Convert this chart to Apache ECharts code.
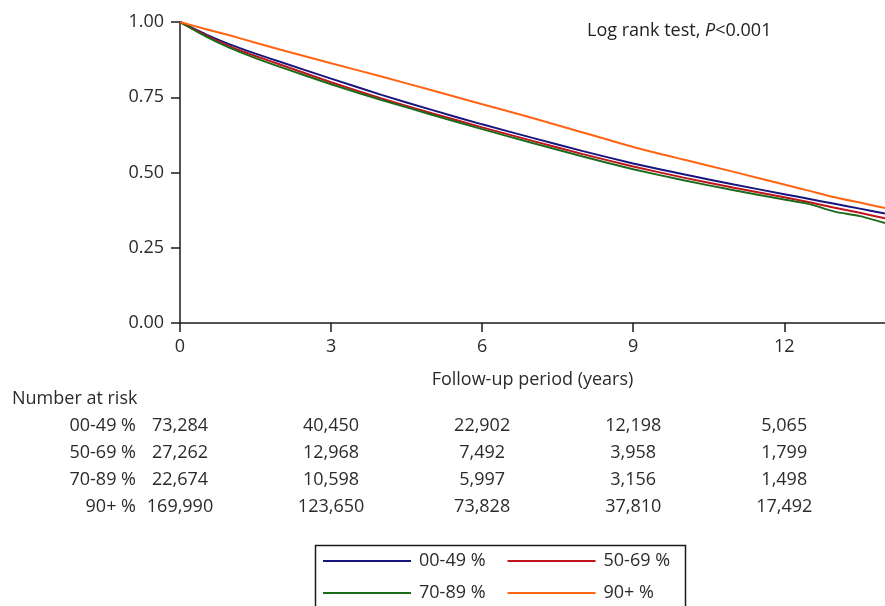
<!DOCTYPE html>
<html>
<head>
<meta charset="utf-8">
<script src="https://cdn.jsdelivr.net/npm/echarts@6/dist/echarts.min.js"></script>
<style>html,body{margin:0;padding:0;background:#fff;}#c{width:885px;height:606px;}</style>
</head>
<body>
<div id="c"></div>
<script>
// ---- data ----
var groups = ['00-49 %', '50-69 %', '70-89 %', '90+ %'];
var times = [0, 0.5, 1, 1.5, 2, 3, 4, 5, 6, 7, 8, 9, 10, 11, 12, 12.5, 13, 13.5, 14];
var surv0049 = [1, 0.960, 0.925, 0.895, 0.867, 0.812, 0.758, 0.708, 0.660, 0.615, 0.571, 0.530, 0.494, 0.460, 0.428, 0.412, 0.396, 0.380, 0.364];
var surv5069 = [1, 0.956, 0.918, 0.887, 0.858, 0.800, 0.746, 0.697, 0.650, 0.605, 0.561, 0.520, 0.483, 0.449, 0.418, 0.401, 0.383, 0.366, 0.348];
var surv7089 = [1, 0.953, 0.913, 0.880, 0.850, 0.793, 0.741, 0.692, 0.644, 0.598, 0.553, 0.511, 0.474, 0.441, 0.410, 0.395, 0.370, 0.355, 0.332];
var surv90 = [1, 0.977, 0.955, 0.931, 0.908, 0.863, 0.819, 0.773, 0.727, 0.681, 0.633, 0.585, 0.543, 0.502, 0.460, 0.439, 0.418, 0.400, 0.382];
var riskTimes = [0, 3, 6, 9, 12];
var risk0049 = [73284, 40450, 22902, 12198, 5065];
var risk5069 = [27262, 12968, 7492, 3958, 1799];
var risk7089 = [22674, 10598, 5997, 3156, 1498];
var risk90 = [169990, 123650, 73828, 37810, 17492];
var xTicks = [0, 3, 6, 9, 12];

var colors = ['#16167e', '#c0131b', '#1b6b1b', '#ff6412'];
var survs = [surv0049, surv5069, surv7089, surv90];
var risks = [risk0049, risk5069, risk7089, risk90];
var FONT = '"Open Sans", sans-serif';
var TXT = '#2b2b2b';

function pairs(xs, ys) { return xs.map(function (x, i) { return [x, ys[i]]; }); }

var series = groups.map(function (g, i) {
  return {
    name: g, type: 'line', xAxisIndex: 0, yAxisIndex: 0,
    data: pairs(times, survs[i]), symbol: 'none', smooth: 0.2,
    lineStyle: { color: colors[i], width: 2 }, itemStyle: { color: colors[i] },
    z: i === 3 ? 3 : 2, silent: true
  };
});
var riskData = [];
risks.forEach(function (arr, gi) {
  arr.forEach(function (v, j) { riskData.push([riskTimes[j], gi, v]); });
});
series.push({
  name: 'risk', type: 'scatter', xAxisIndex: 1, yAxisIndex: 1,
  data: riskData, symbolSize: 0, silent: true,
  itemStyle: { opacity: 1 },
  label: {
    show: true, position: 'inside', fontFamily: FONT, fontSize: 18, color: TXT, opacity: 1,
    formatter: function (p) { return p.value[2].toLocaleString('en-US'); }
  }
});

var legendCommon = {
  left: 323, padding: 0, icon: 'rect',
  itemWidth: 88, itemHeight: 2, itemGap: 22, orient: 'horizontal',
  textStyle: { fontSize: 18, color: TXT, fontFamily: FONT, lineHeight: 20, padding: [0, 0, 0, 3] },
  selectedMode: false
};

var chart = echarts.init(document.getElementById('c'), null, { renderer: 'canvas' });
chart.setOption({
  animation: false,
  backgroundColor: '#fff',
  textStyle: { fontFamily: FONT },
  grid: [
    { left: 180, top: 22, right: 0, bottom: 283, containLabel: false, outerBoundsMode: 'none' },
    { left: 180, top: 412, right: 0, bottom: 86, containLabel: false, outerBoundsMode: 'none' }
  ],
  xAxis: [
    {
      type: 'value', gridIndex: 0, min: 0, max: 14, interval: 3,
      name: 'Follow-up period (years)', nameLocation: 'middle', nameGap: 48,
      nameTextStyle: { fontSize: 18, color: TXT, fontFamily: FONT },
      axisLine: { show: true, onZero: false, lineStyle: { color: '#1a1a1a', width: 1.5 } },
      axisTick: { show: true, length: 9, customValues: xTicks, lineStyle: { color: '#1a1a1a', width: 1.5 } },
      axisLabel: { fontSize: 18, color: TXT, fontFamily: FONT, margin: 15, customValues: xTicks,
        formatter: function (v) { return String(v); } },
      splitLine: { show: false }
    },
    {
      type: 'value', gridIndex: 1, min: 0, max: 14, show: false
    }
  ],
  yAxis: [
    {
      type: 'value', gridIndex: 0, min: 0, max: 1, interval: 0.25,
      axisLine: { show: true, onZero: false, lineStyle: { color: '#1a1a1a', width: 1.5 } },
      axisTick: { show: true, length: 9, lineStyle: { color: '#1a1a1a', width: 1.5 } },
      axisLabel: { fontSize: 18, color: TXT, fontFamily: FONT, margin: 16,
        formatter: function (v) { return v.toFixed(2); } },
      splitLine: { show: false }
    },
    {
      type: 'category', gridIndex: 1, data: groups, inverse: true,
      axisLine: { show: false }, axisTick: { show: false }, splitLine: { show: false },
      axisLabel: { fontSize: 18, color: TXT, fontFamily: FONT, margin: 44 }
    }
  ],
  legend: [
    Object.assign({}, legendCommon, { data: [groups[0], groups[1]], top: 551 }),
    Object.assign({}, legendCommon, { data: [groups[2], groups[3]], top: 583 })
  ],
  graphic: [
    {
      type: 'rect', left: 313, top: 543, shape: { width: 370, height: 80 },
      style: { fill: 'none', stroke: '#1a1a1a', lineWidth: 1.5 }, silent: true
    },
    {
      type: 'text', left: 12, top: 390,
      style: { text: 'Number at risk', fontSize: 18, fill: TXT, fontFamily: FONT }
    },
    {
      type: 'text', left: 587, top: 22,
      style: {
        text: 'Log rank test, {i|P}<0.001', fontSize: 18, fill: '#222', fontFamily: FONT,
        rich: { i: { fontStyle: 'italic', fontSize: 18, fill: '#222', fontFamily: FONT } }
      }
    }
  ],
  series: series
});
</script>
</body>
</html>
